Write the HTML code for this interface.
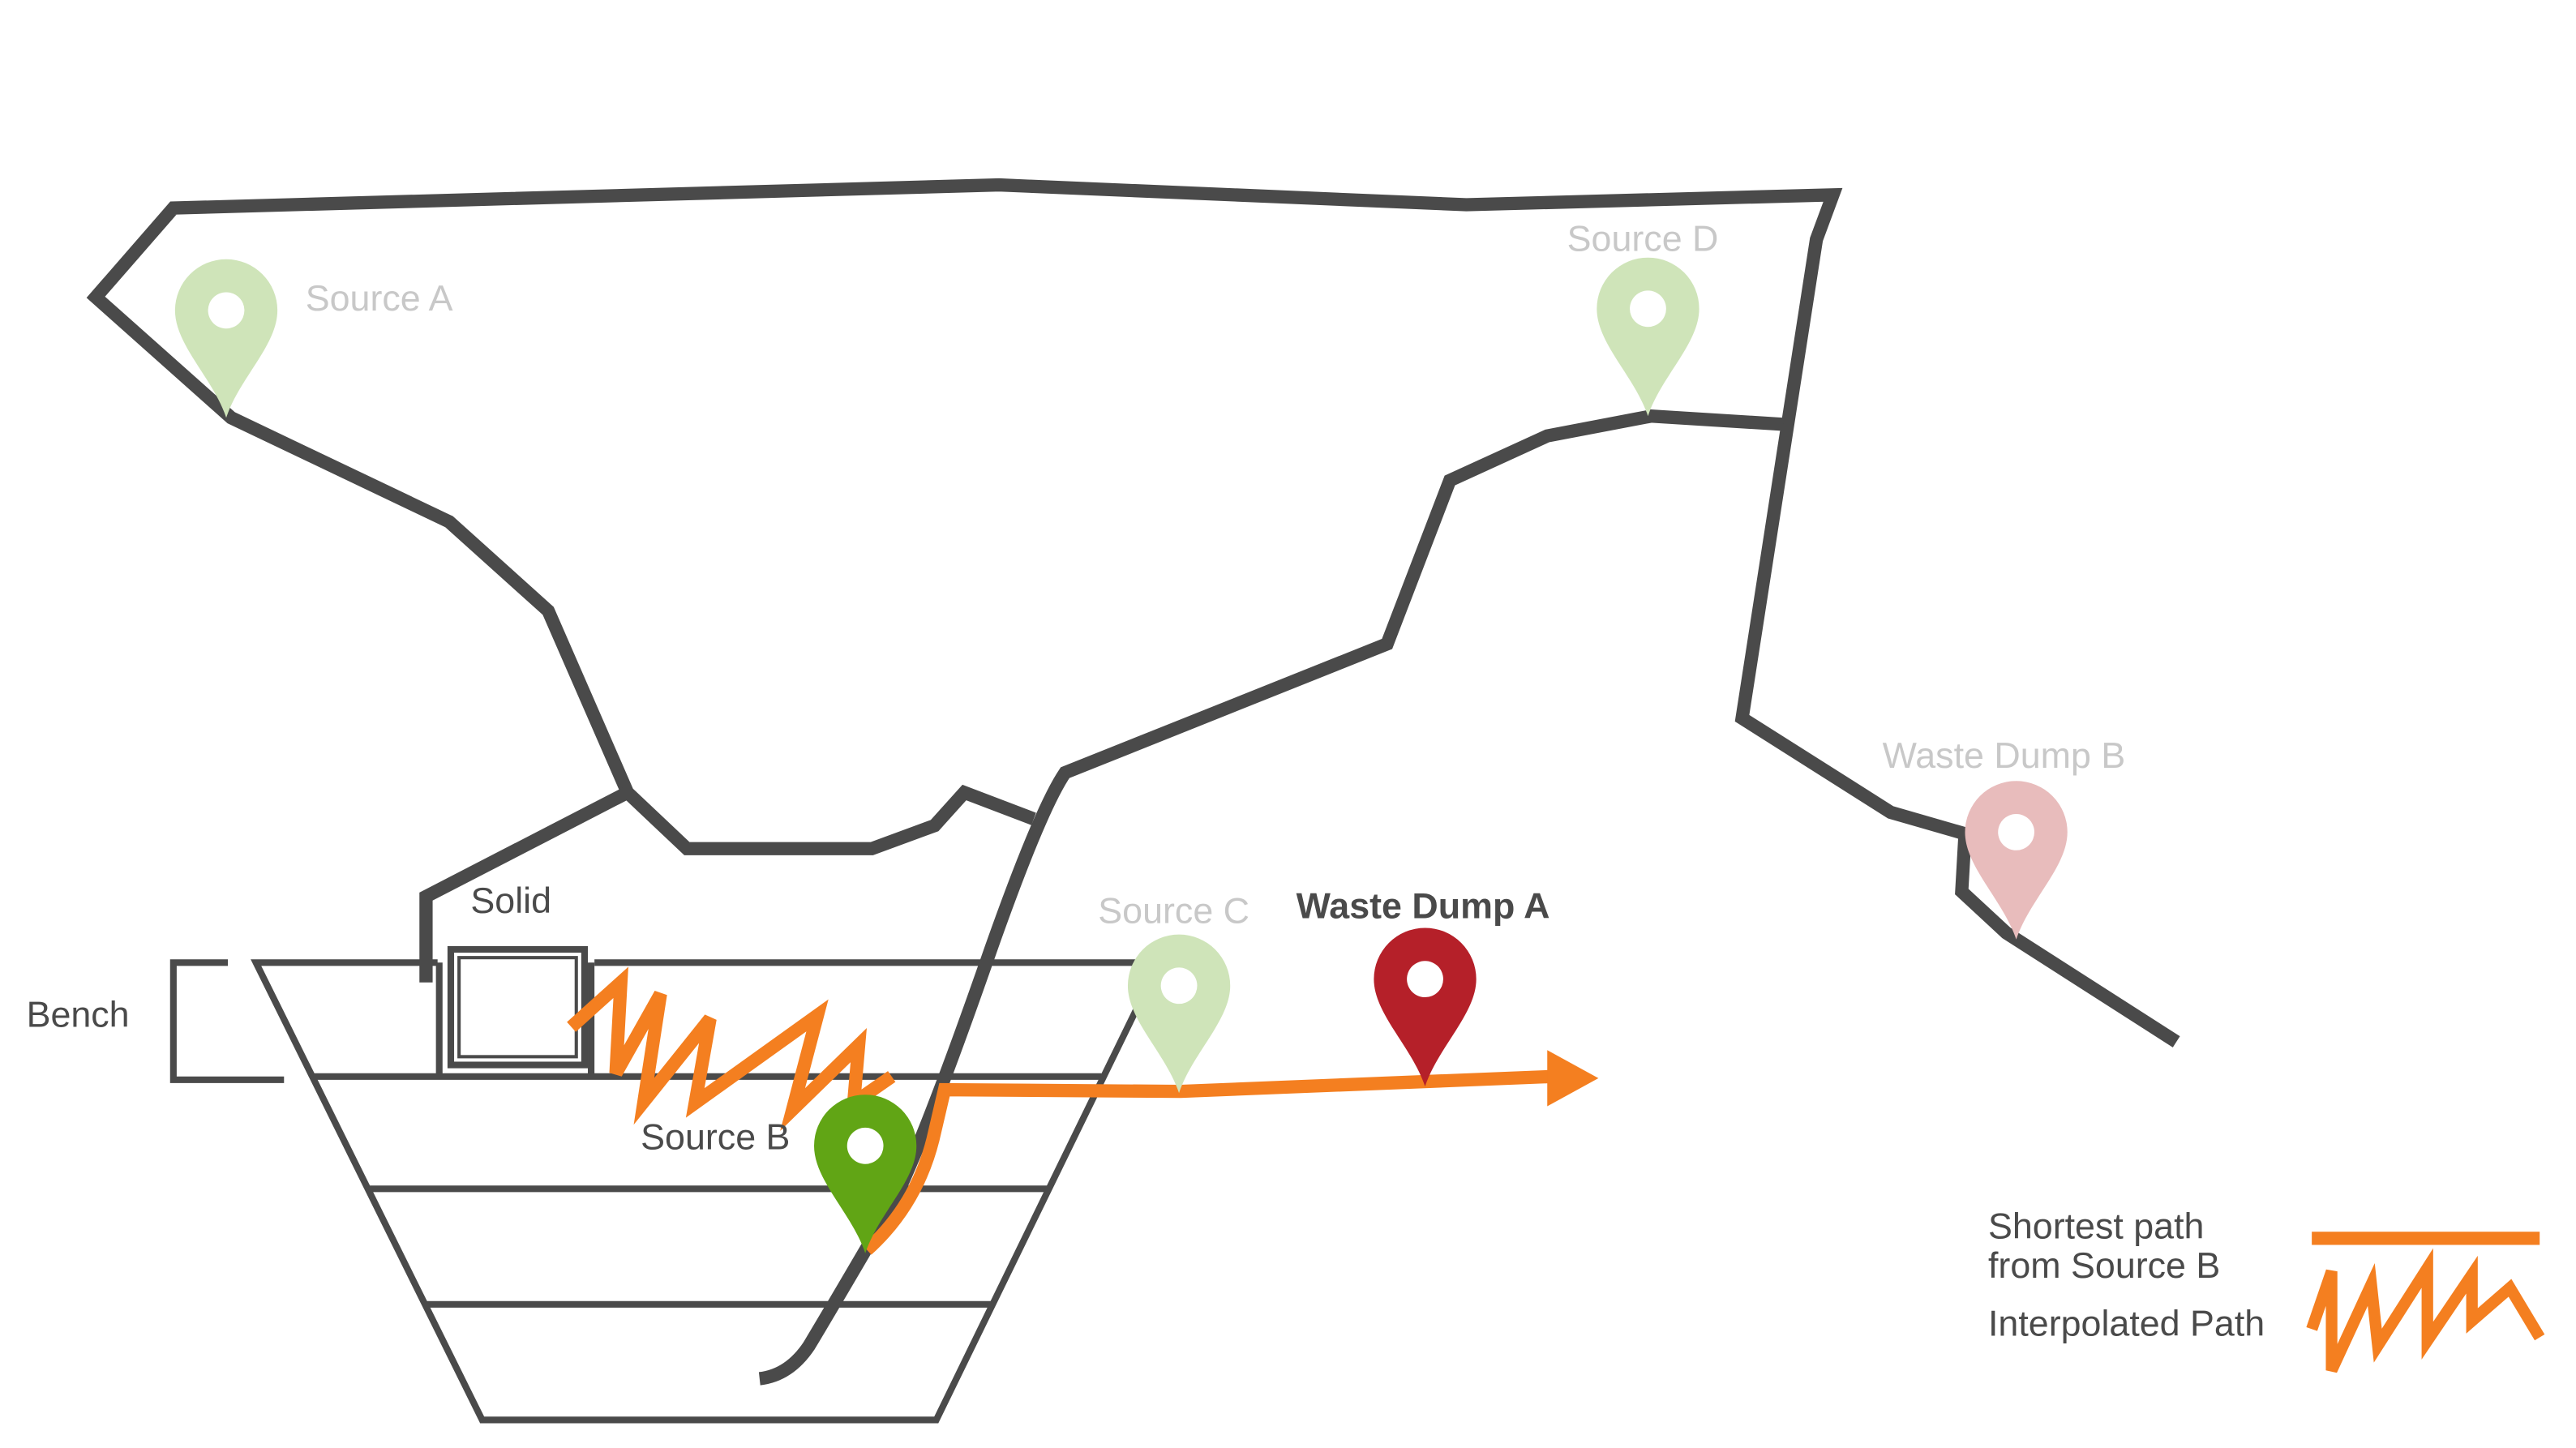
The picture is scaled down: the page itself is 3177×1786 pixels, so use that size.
<!DOCTYPE html>
<html><head><meta charset="utf-8"><style>
html,body{margin:0;padding:0;background:#fff;}
svg{display:block;}
text{font-family:"Liberation Sans",sans-serif;font-size:22px;}
</style></head><body>
<svg width="3177" height="1786" viewBox="0 0 1560 877" preserveAspectRatio="none" xmlns="http://www.w3.org/2000/svg">
<defs>
<path id="pin" d="M0,64 C-8,40 -31,20 -31,-1 A31,31 0 1 1 31,-1 C31,20 8,40 0,64 Z"/>
</defs>
<g fill="none" stroke="#4a4a4a" stroke-width="8" stroke-linejoin="miter">
<polyline points="1318,631 1215,565 1188,540 1190,505 1145,492 1055,435 1100,145 1110,118 888,124 605,112 105,126 58,180 140,253 272,316 332,370 380,480 416,514 528,514 566,500 584,480 626,496"/>
<polyline points="380,480 258,543 258,595"/>
<path d="M1080,257 L1000,252 L937,264 L878,291 L840,390 L645,468 Q630,490 600,575 Q560,690 540,730 Q505,790 490,815 Q478,833 460,835"/>
</g>
<g fill="none" stroke="#4a4a4a" stroke-width="4">
<polyline points="265,583 155,583 292,860 567,860 702,583 360,583"/>
<line x1="190" y1="652" x2="667" y2="652"/>
<line x1="224" y1="720" x2="634" y2="720"/>
<line x1="258" y1="790" x2="600" y2="790"/>
<polyline points="138,583 105,583 105,654 172,654"/>
<line x1="266" y1="583" x2="266" y2="652"/>
<line x1="358" y1="583" x2="358" y2="652"/>
<rect x="273" y="575" width="81" height="70"/>
<rect x="278" y="580" width="71" height="60" stroke-width="2"/>
</g>
<g fill="none" stroke="#f47f20" stroke-width="8" stroke-linejoin="miter">
<polyline points="346,622 376,595 373,650 400,602 390,667 430,617 421,668 495,615 480,672 520,633 517,668 540,652"/>
<path d="M525,757 Q555,730 565,690 L572,660 L715,661 L940,652"/>
<line x1="1400" y1="750" x2="1538" y2="750"/>
<polyline points="1400,805 1412,770 1412,830 1436,778 1440,815 1470,768 1470,812 1497,772 1497,800 1520,780 1538,810" stroke-width="7"/>
</g>
<polygon points="937,636 968,653 937,670" fill="#f47f20"/>
<g>
<use href="#pin" x="137" y="189" fill="#cfe4b9"/><circle cx="137" cy="188" r="11" fill="#fff"/>
<use href="#pin" x="998" y="188" fill="#cfe4b9"/><circle cx="998" cy="187" r="11" fill="#fff"/>
<use href="#pin" x="1221" y="505" fill="#e8bcbc"/><circle cx="1221" cy="504" r="11" fill="#fff"/>
<use href="#pin" x="714" y="598" fill="#cfe4b9"/><circle cx="714" cy="597" r="11" fill="#fff"/>
<use href="#pin" x="863" y="594" fill="#b52029"/><circle cx="863" cy="593" r="11" fill="#fff"/>
<use href="#pin" x="524" y="695" fill="#61a515"/><circle cx="524" cy="694" r="11" fill="#fff"/>
</g>
<g fill="#c8c8c8">
<text x="185" y="188">Source A</text>
<text x="949" y="152">Source D</text>
<text x="1140" y="465">Waste Dump B</text>
<text x="665" y="559">Source C</text>
</g>
<g fill="#4a4a4a">
<text x="785" y="556" font-weight="bold">Waste Dump A</text>
<text x="285" y="553">Solid</text>
<text x="16" y="622">Bench</text>
<text x="388" y="696">Source B</text>
<text x="1204" y="750">Shortest path</text>
<text x="1204" y="774">from Source B</text>
<text x="1204" y="809">Interpolated Path</text>
</g>
</svg>
</body></html>
